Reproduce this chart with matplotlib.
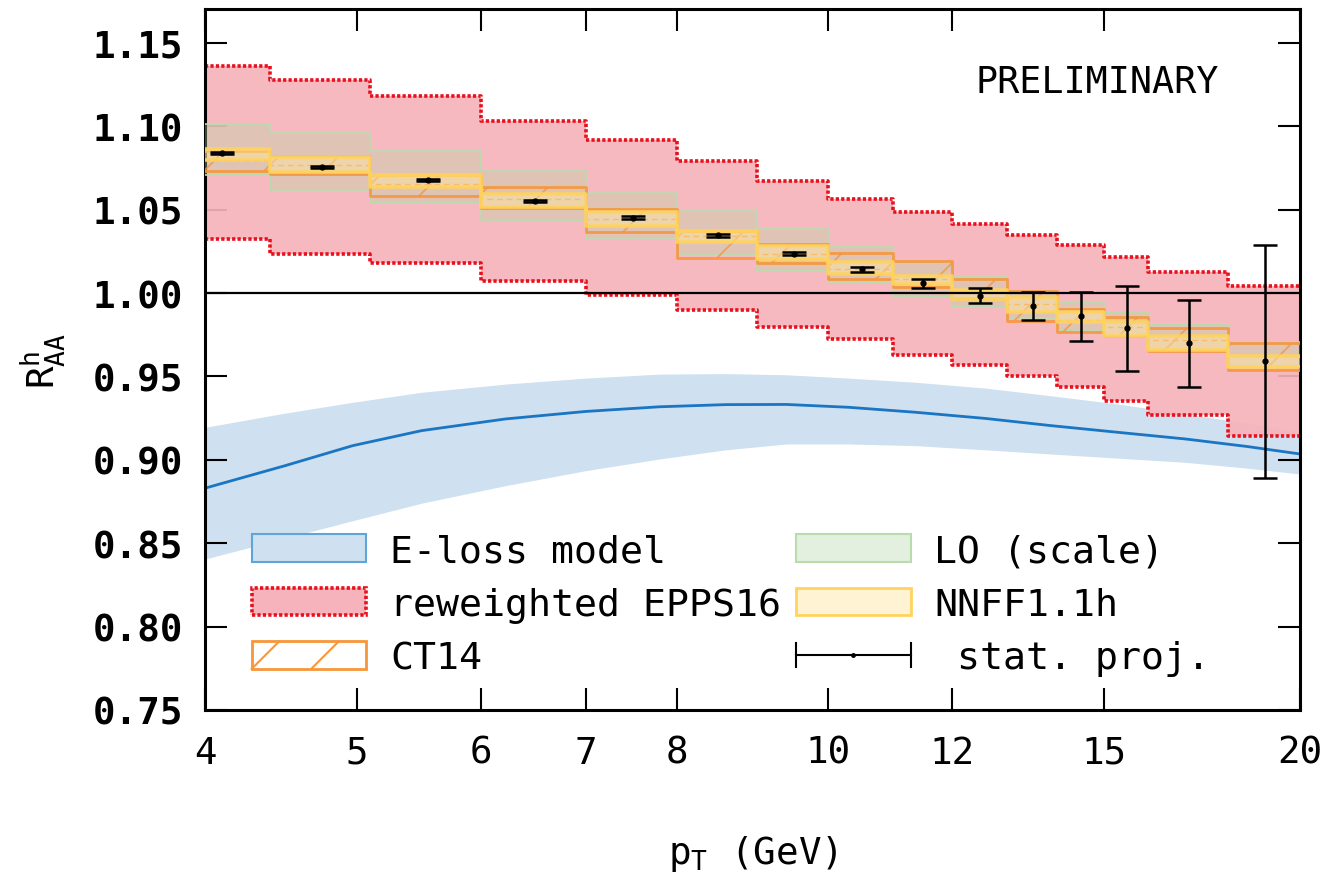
import matplotlib.pyplot as plt
import numpy as np
from matplotlib.patches import Patch, Rectangle
from matplotlib.lines import Line2D
from matplotlib.collections import LineCollection
from matplotlib.legend_handler import HandlerBase

# bin edges in pT (GeV)
edges = [4, 4.4, 5.1, 6, 7, 8, 9, 10, 11, 12, 13, 14, 15, 16, 18, 20]

# statistical projection points
pt_pts = [4.1, 4.75, 5.55, 6.5, 7.5, 8.5, 9.5, 10.5, 11.5, 12.5, 13.5, 14.5, 15.5, 17, 19]
raa_pts = [1.084, 1.0757, 1.0677, 1.0552, 1.0452, 1.0346, 1.0236, 1.0142, 1.0058, 0.9985,
           0.9922, 0.986, 0.9788, 0.9698, 0.959]
raa_err = [0.0005, 0.0005, 0.0005, 0.0006, 0.0007, 0.0008, 0.001, 0.0016, 0.0028, 0.0046,
           0.0085, 0.0149, 0.0253, 0.0263, 0.070]

# reweighted EPPS16 band
epps_up = [1.1363, 1.1277, 1.1179, 1.1033, 1.0915, 1.0793, 1.0673, 1.0564, 1.0488, 1.0414,
           1.0348, 1.0288, 1.0214, 1.0128, 1.004]
epps_lo = [1.0324, 1.0234, 1.0178, 1.0074, 0.999, 0.990, 0.9798, 0.9724, 0.9628, 0.9569,
           0.9504, 0.9434, 0.935, 0.9269, 0.9145]

# LO scale band
lo_up = [1.1016, 1.0957, 1.0851, 1.0731, 1.060, 1.049, 1.0384, 1.0276, 1.0184, 1.0098,
         1.002, 0.9948, 0.9884, 0.9814, 0.9704]
lo_lo = [1.0705, 1.0619, 1.054, 1.0438, 1.0332, 1.023, 1.013, 1.0064, 0.9978, 0.9914,
         0.985, 0.9774, 0.9734, 0.9654, 0.9564]

# CT14 band
ct_up = [1.085, 1.0823, 1.071, 1.0634, 1.0504, 1.0374, 1.0294, 1.024, 1.019, 1.0084,
         1.0014, 0.9904, 0.9854, 0.9788, 0.970]
ct_lo = [1.0733, 1.0713, 1.0583, 1.0508, 1.0364, 1.0212, 1.018, 1.0084, 1.0034, 0.997,
         0.9834, 0.9764, 0.974, 0.9654, 0.954]
ct_mid = [1.080, 1.0768, 1.0655, 1.0565, 1.0445, 1.034, 1.0237, 1.0145, 1.0085, 1.0007,
          0.9935, 0.984, 0.9795, 0.972, 0.962]

# NNFF1.1h band
nn_up = [1.0863, 1.0815, 1.0705, 1.0594, 1.0484, 1.0374, 1.0284, 1.0184, 1.010, 1.002,
         0.9974, 0.9884, 0.9824, 0.974, 0.9624]
nn_lo = [1.0799, 1.0724, 1.0634, 1.0514, 1.0403, 1.0304, 1.0204, 1.0114, 1.0054, 0.9964,
         0.9884, 0.9828, 0.974, 0.966, 0.9555]

# E-loss model curve
eloss_pt = [4, 4.5, 4.97, 5.5, 6.22, 7.0, 7.8, 8.6, 9.4, 10.3, 11.37, 12.6, 13.87, 15.3, 16.9, 18.5, 20]
eloss_mid = [0.883, 0.8965, 0.9085, 0.9175, 0.9245, 0.929, 0.9318, 0.9331, 0.9332, 0.9315,
             0.9285, 0.9248, 0.9205, 0.9165, 0.9125, 0.908, 0.9035]
eloss_up = [0.9195, 0.928, 0.9345, 0.9405, 0.9454, 0.949, 0.9514, 0.9517, 0.951, 0.949,
            0.9465, 0.943, 0.9384, 0.9335, 0.9275, 0.922, 0.9165]
eloss_lo = [0.8405, 0.853, 0.8635, 0.874, 0.8845, 0.8935, 0.9005, 0.906, 0.9095, 0.9095,
            0.9085, 0.906, 0.9035, 0.901, 0.8985, 0.895, 0.8915]

xticks = [4, 5, 6, 7, 8, 10, 12, 15, 20]
yticks = [0.75, 0.80, 0.85, 0.90, 0.95, 1.00, 1.05, 1.10, 1.15]

FONT = 'DejaVu Sans Mono'
plt.rcParams['font.family'] = FONT
plt.rcParams['mathtext.fontset'] = 'custom'
plt.rcParams['mathtext.rm'] = FONT
plt.rcParams['mathtext.it'] = FONT

blue_fill, blue_line, blue_edge = '#cfe0f1', '#1a75c2', '#5ea6d8'
red_fill, red_edge = '#f7b3bb', '#e8101c'
green_fill, green_edge = '#b5d7a0', '#b9dcae'
ct_col = '#f7963a'
yel_fill, yel_edge = '#ffeaa0', '#ffd35e'
red_dash = (0, (0.9, 0.6))


def stepped(v):
    return np.append(v, v[-1])


fig = plt.figure(figsize=(13.22, 8.79), dpi=100)
ax = fig.add_axes([205 / 1322, 1 - 711 / 879, 1095 / 1322, 701 / 879])
ax.set_xscale('log')
ax.set_xlim(4, 20)
ax.set_ylim(0.75, 1.1703)

# E-loss model
ax.fill_between(eloss_pt, eloss_lo, eloss_up, color=blue_fill, lw=0, zorder=1)

# reweighted EPPS16
ax.fill_between(edges, stepped(epps_lo), stepped(epps_up), step='post',
                color=red_fill, alpha=0.92, lw=0, zorder=2)
for v in (epps_up, epps_lo):
    ax.step(edges, stepped(v), where='post', color=red_edge, lw=2.6,
            linestyle=red_dash, dash_capstyle='butt', zorder=2.2)

ax.plot(eloss_pt, eloss_mid, color=blue_line, lw=2.0, zorder=2.5)

# LO (scale)
ax.fill_between(edges, stepped(lo_lo), stepped(lo_up), step='post',
                color=green_fill, alpha=0.35, lw=0, zorder=3)
for v in (lo_up, lo_lo):
    ax.step(edges, stepped(v), where='post', color=green_edge, lw=1.2, zorder=3.1)

# CT14, hatched
ct_poly = ax.fill_between(edges, stepped(ct_lo), stepped(ct_up), step='post',
                          facecolor='none', lw=0, zorder=4)
fig.canvas.draw()
bb = ax.get_window_extent()
aw, ah = bb.width, bb.height
spacing = 60.0
segs = []
for k in range(-15, 25):
    x0 = k * spacing / aw
    segs.append([(x0, 0), (x0 + ah / aw, 1)])
hatch = LineCollection(segs, colors=ct_col, linewidths=1.3, alpha=0.8,
                       transform=ax.transAxes, zorder=4.1)
ax.add_collection(hatch)
hatch.set_clip_path(ct_poly.get_paths()[0], ax.transData)
for v in (ct_up, ct_lo):
    ax.step(edges, stepped(v), where='post', color=ct_col, lw=2.0, alpha=0.9, zorder=4.2)
ax.step(edges, stepped(ct_mid), where='post', color=ct_col, lw=1.0,
        linestyle=(0, (4, 3)), zorder=4.3)

# NNFF1.1h
ax.fill_between(edges, stepped(nn_lo), stepped(nn_up), step='post',
                color=yel_fill, alpha=0.45, lw=0, zorder=5)
for v in (nn_up, nn_lo):
    ax.step(edges, stepped(v), where='post', color=yel_edge, lw=2.6, alpha=0.9, zorder=5.1)

ax.axhline(1.0, color='black', lw=1.6, zorder=6)

# statistical projection
ax.errorbar(pt_pts, raa_pts, yerr=raa_err, fmt='o', color='black', ms=3.5,
            elinewidth=1.8, capsize=8.5, capthick=1.8, zorder=7)

ax.text(0.8146, 0.897, 'PRELIMINARY', transform=ax.transAxes, ha='center',
        va='center', fontsize=26.5)

# axes styling
ax.set_xticks(xticks)
ax.set_xticklabels([str(t) for t in xticks])
ax.xaxis.set_minor_locator(plt.NullLocator())
ax.set_yticks(yticks)
ax.set_yticklabels([f'{t:.2f}' for t in yticks], fontweight='bold')
ax.tick_params(which='major', direction='in', length=16, width=1.5,
               top=True, right=True, labelsize=27)
ax.tick_params(axis='x', pad=18)
ax.tick_params(axis='y', pad=16)
for s in ax.spines.values():
    s.set_linewidth(2.2)

ax.set_xlabel(r'$\mathregular{p_T}$ (GeV)', fontsize=27)
ax.xaxis.set_label_coords(0.5, -0.175)
ax.set_ylabel(r'$\mathregular{R^h_{AA}}$', fontsize=27)
ax.yaxis.set_label_coords(-0.125, 0.5)


class CT14Handler(HandlerBase):
    def create_artists(self, legend, orig_handle, xdescent, ydescent, width, height,
                       fontsize, trans):
        x0, y0 = -xdescent, -ydescent
        arts = [Rectangle((x0, y0), width, height, facecolor='white', edgecolor=ct_col,
                          lw=2, transform=trans)]
        for f in (0.0, 0.52):
            arts.append(Line2D([x0 + f * width, x0 + f * width + height], [y0, y0 + height],
                               color=ct_col, lw=1.5, transform=trans))
        return arts


class StatHandler(HandlerBase):
    def create_artists(self, legend, orig_handle, xdescent, ydescent, width, height,
                       fontsize, trans):
        x0, y0 = -xdescent, -ydescent
        ym = y0 + height / 2
        c = 0.42 * height
        return [
            Line2D([x0, x0 + width], [ym, ym], color='black', lw=1.5, transform=trans),
            Line2D([x0, x0], [ym - c, ym + c], color='black', lw=1.5, transform=trans),
            Line2D([x0 + width, x0 + width], [ym - c, ym + c], color='black', lw=1.5,
                   transform=trans),
            Line2D([x0 + width / 2], [ym], marker='o', ms=2.5, color='black',
                   transform=trans),
        ]


class CT14Key:
    pass


class StatKey:
    pass


handles = [
    Patch(facecolor=blue_fill, edgecolor=blue_edge, lw=1.5),
    Patch(facecolor=red_fill, edgecolor=red_edge, lw=2.6, linestyle=red_dash),
    CT14Key(),
    Patch(facecolor='#e3efdf', edgecolor=green_edge, lw=1.5),
    Patch(facecolor='#fff3d4', edgecolor=yel_edge, lw=2),
    StatKey(),
]
labels = ['E-loss model', 'reweighted EPPS16', 'CT14', 'LO (scale)', 'NNFF1.1h',
          ' stat. proj.']
ax.legend(handles, labels, ncol=2, loc='lower left', bbox_to_anchor=(0.0426, 0.048),
          frameon=False, fontsize=27.5, handlelength=3.0, handleheight=0.74,
          handletextpad=0.62, columnspacing=0.4, labelspacing=0.46,
          borderpad=0, borderaxespad=0,
          handler_map={CT14Key: CT14Handler(), StatKey: StatHandler()})

fig.savefig('out.png', dpi=100)
